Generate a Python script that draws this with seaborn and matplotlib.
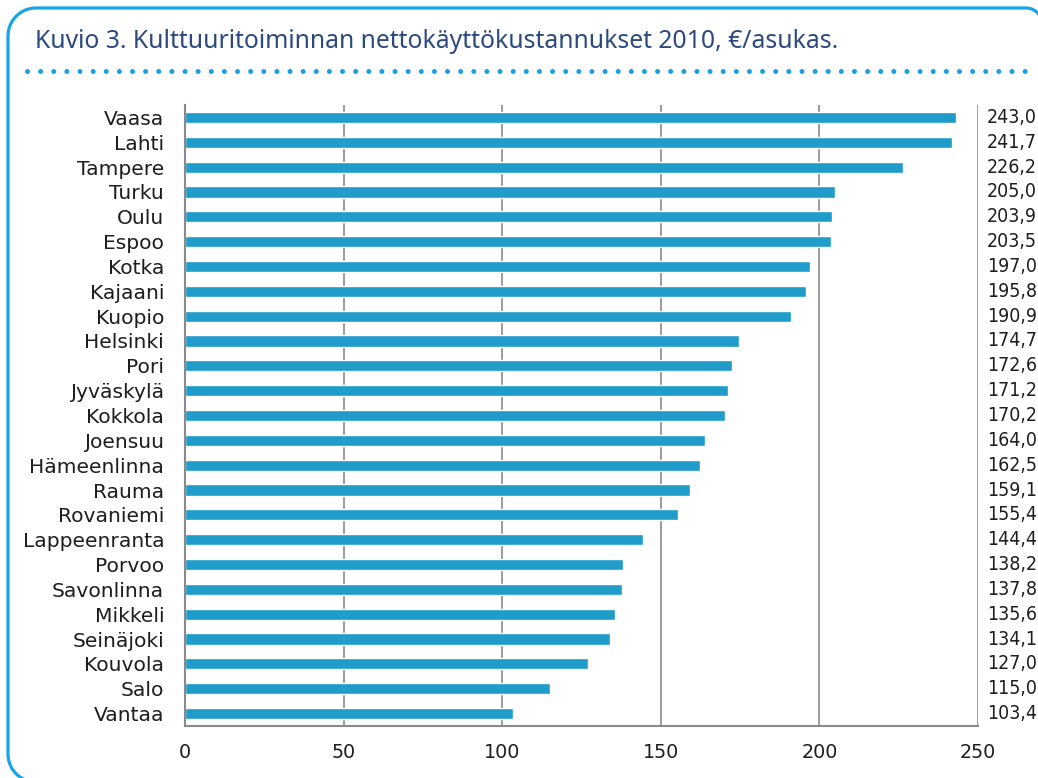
import matplotlib
matplotlib.use("Agg")
import matplotlib.pyplot as plt
import matplotlib.transforms as mtransforms
from matplotlib.lines import Line2D
from matplotlib import font_manager
import seaborn as sns
import pandas as pd
import numpy as np

cities = ["Vaasa", "Lahti", "Tampere", "Turku", "Oulu", "Espoo", "Kotka", "Kajaani",
          "Kuopio", "Helsinki", "Pori", "Jyväskylä", "Kokkola", "Joensuu", "Hämeenlinna",
          "Rauma", "Rovaniemi", "Lappeenranta", "Porvoo", "Savonlinna", "Mikkeli",
          "Seinäjoki", "Kouvola", "Salo", "Vantaa"]
values = [243.0, 241.7, 226.2, 205.0, 203.9, 203.5, 197.0, 195.8, 190.9, 174.7, 172.6,
          171.2, 170.2, 164.0, 162.5, 159.1, 155.4, 144.4, 138.2, 137.8, 135.6, 134.1,
          127.0, 115.0, 103.4]
x_ticks = [0, 50, 100, 150, 200, 250]
title = "Kuvio 3. Kulttuuritoiminnan nettokäyttökustannukset 2010, €/asukas."

sns.set_style("white")
plt.rcParams["font.family"] = ["DejaVu Sans"]

names = {f.name for f in font_manager.fontManager.ttflist}
narrow = "Liberation Sans Narrow" if "Liberation Sans Narrow" in names else None

W, H = 1038, 778
fig = plt.figure(figsize=(W / 100, H / 100), dpi=100)
ax = fig.add_axes([185 / W, 1 - 726 / H, (978 - 185) / W, (726 - 105) / H])

df = pd.DataFrame({"city": cities, "value": values})
sns.barplot(data=df, x="value", y="city", orient="h", color="#1f9cca",
            saturation=1, width=0.45, ax=ax)

gray = "#8a8a8a"
txt = "#1e1e1e"
ax.set_xlim(0, 250)
ax.set_ylim(len(cities) - 0.5, -0.5)
ax.set_xticks(x_ticks)
ax.set_xticklabels([str(t) for t in x_ticks], fontsize=13.8, color=txt, family="DejaVu Sans")
ax.set_xticks([0, 250], minor=True)
ax.set_yticks(range(len(cities)))
ax.set_yticklabels(cities, fontsize=14.6, color=txt, family="DejaVu Sans")
ax.set_xlabel("")
ax.set_ylabel("")
ax.tick_params(axis="y", which="major", length=0, pad=15)
ax.set_yticks(np.arange(-0.5, len(cities), 1.0), minor=True)
ax.tick_params(axis="y", which="minor", length=5.5, color=gray, width=1.3, direction="out")
ax.tick_params(axis="x", which="major", length=0, pad=12)
ax.tick_params(axis="x", which="minor", length=5, color=gray, width=1.3, direction="out")

for t in x_ticks[1:]:
    ax.axvline(t, color=gray, lw=1.2, zorder=0)
for s in ["top", "right"]:
    ax.spines[s].set_visible(False)
for s in ["left", "bottom"]:
    ax.spines[s].set_color(gray)
    ax.spines[s].set_linewidth(1.5)

trans = mtransforms.blended_transform_factory(ax.transAxes, ax.transData)
x_lab = (1037 - 185) / (978 - 185)
for i, v in enumerate(values):
    kw = dict(family=narrow, fontsize=16) if narrow else dict(family="DejaVu Sans", fontstretch="condensed", fontsize=14)
    ax.text(x_lab, i, f"{v:.1f}".replace(".", ","), transform=trans, ha="right",
            va="center", color=txt, **kw)

# rounded frame (pixel coordinates, y up) -- decoration only
ident = mtransforms.IdentityTransform()
R1, R2 = 28, 16
top, left, right = H - 8, 8, 1042


def corner(cx, cy, r, a0, a1):
    t = np.radians(np.linspace(a0, a1, 30))
    return list(cx + r * np.cos(t)), list(cy + r * np.sin(t))


xs, ys = [], []
for seg in [corner(left + R1, 24, R1, 270, 180),
            corner(left + R1, top - R1, R1, 180, 90),
            corner(right - R2, top - R2, R2, 90, 0)]:
    xs += seg[0]
    ys += seg[1]
xs += [right]
ys += [-20]
frame = Line2D(xs, ys, transform=ident, color="#18a6e4", lw=2.3,
               solid_joinstyle="round", clip_on=False)
fig.add_artist(frame)

fig.text(35 / W, 1 - 41 / H, title, ha="left", va="center", fontsize=17.8,
         color="#2c4a7e", family=["Noto Sans", "DejaVu Sans"], weight="medium")

plt.rcParams["lines.scale_dashes"] = False
dots = Line2D([27, 1030], [H - 71, H - 71], transform=ident,
              color="#1a9fe2", linewidth=3.6, linestyle=(0, (0.001, 9.45)),
              dash_capstyle="round")
fig.add_artist(dots)

fig.savefig("out.png", dpi=100)
